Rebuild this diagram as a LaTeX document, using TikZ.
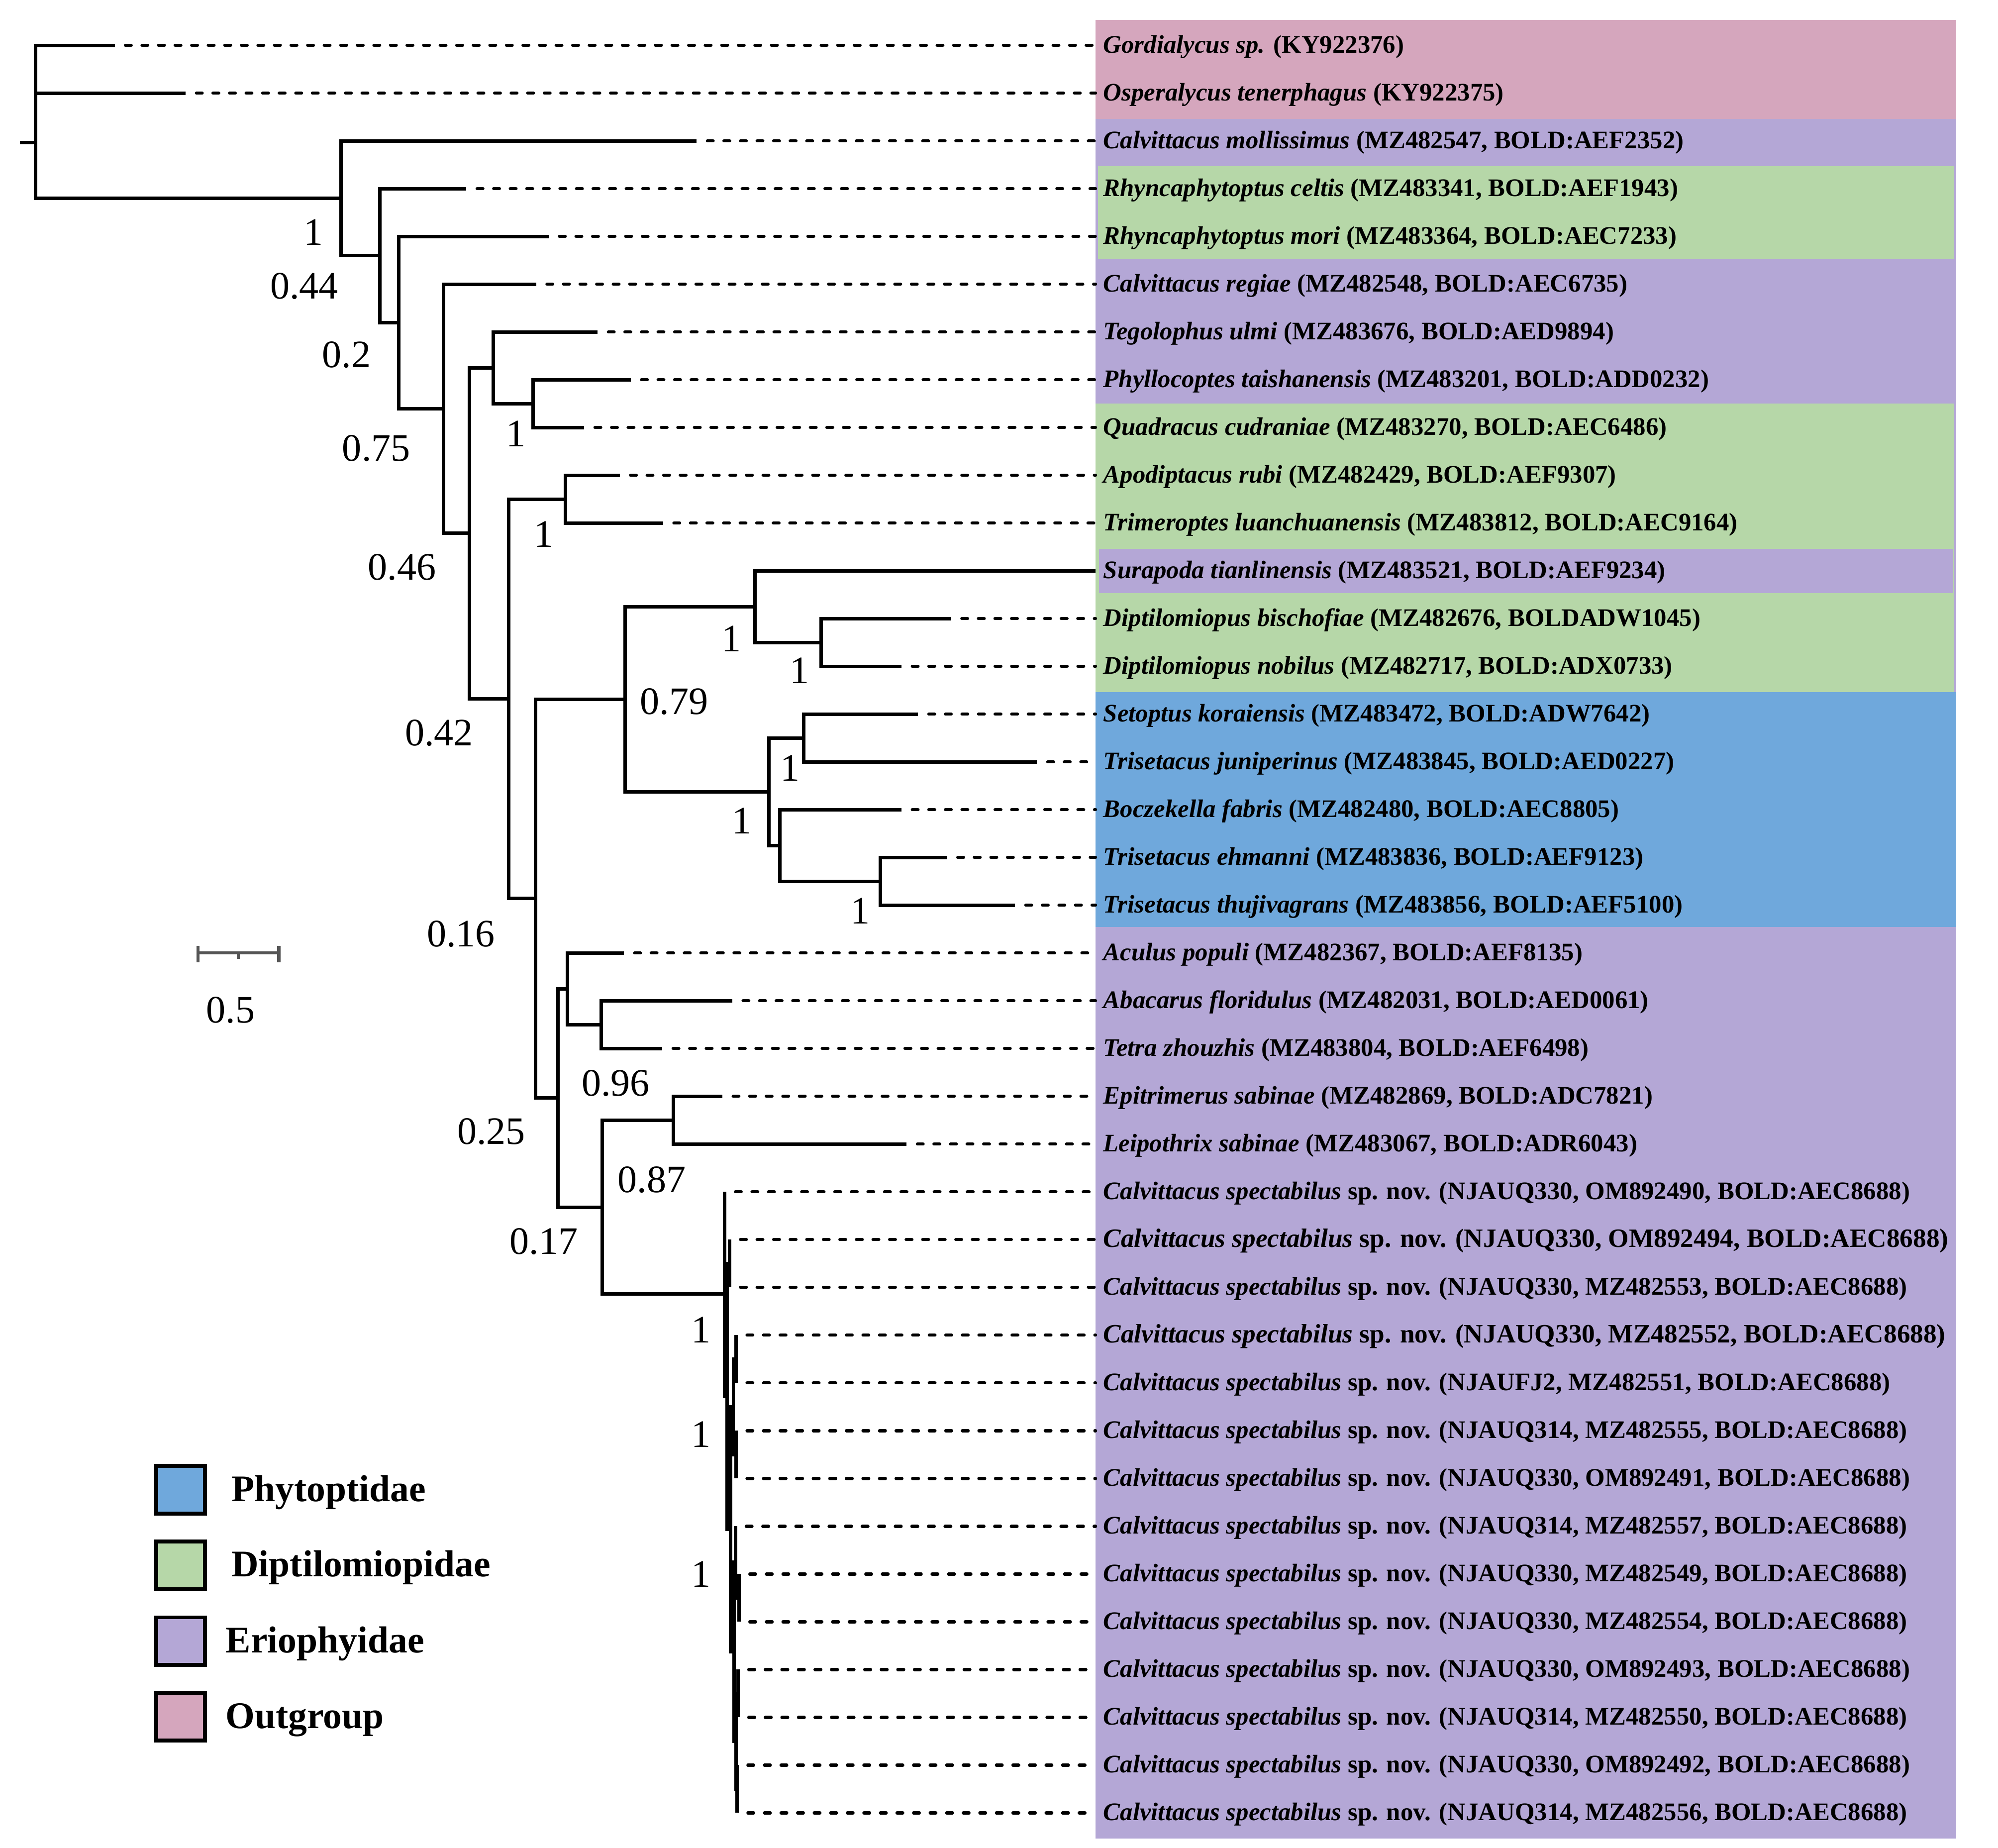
\documentclass[tikz,border=0pt]{standalone}
\usepackage{fontspec}
\setmainfont{Liberation Serif}
\definecolor{cpink}{HTML}{D5A6BD}
\definecolor{cpurple}{HTML}{B4A7D6}
\definecolor{cgreen}{HTML}{B6D7A8}
\definecolor{cblue}{HTML}{6FA8DC}
\definecolor{cbar}{HTML}{555555}
\begin{document}
\begin{tikzpicture}[x=1pt,y=-1pt,
 br/.style={line width=2.7pt, line join=miter, line cap=butt},
 dsh/.style={line width=2.4pt, line cap=round, dash pattern=on 4.6pt off 8.4pt, dash phase=4.6pt},
 tax/.style={anchor=base west, inner sep=0pt, font=\fontsize{19.85}{22}\selectfont\bfseries},
 taxb/.style={anchor=base west, inner sep=0pt, font=\fontsize{20.8}{23}\selectfont\bfseries},
 bsv/.style={inner sep=0pt, font=\fontsize{30.5}{34}\selectfont},
 legbox/.style={draw=black, line width=3pt, minimum width=38.1pt, minimum height=37.4pt, inner sep=0pt},
 legtxt/.style={anchor=base west, inner sep=0pt, font=\fontsize{29.5}{33}\selectfont\bfseries},
 sbar/.style={draw=cbar, line width=2.5pt}]
\useasboundingbox (0,0) rectangle (1568,1449.7);
\fill[white] (0,0) rectangle (1568,1449.7);
% colour bands
\fill[cpurple] (859.8,93.3) rectangle (1535.1,1442.7);
\fill[cpink] (859.8,15.7) rectangle (1535.1,93.3);
\fill[cgreen] (861.5,130.4) rectangle (1533.8,203.1);
\fill[cgreen] (859.8,316.8) rectangle (1533.5,543.1);
\fill[cpurple] (862.6,430.5) rectangle (1532.9,465.4);
\fill[cblue] (859.8,543.1) rectangle (1535.1,727.4);
% rows
\foreach \i/\tx in {1/90.0,2/145.7,3/546.7,4/366.0,5/430.6,6/420.8,7/469.0,8/495.0,9/458.5,10/486.4,
 11/520.4,12/859.8,13/746.4,14/707.5,15/720.5,16/813.8,17/707.5,18/743.2,19/796.6,20/489.6,
 21/574.7,22/519.8,23/566.9,24/711.5,25/568.7,26/572.7,27/572.7,28/577.8,29/577.8,30/577.8,
 31/577.8,32/577.2,33/580.0,34/580.0,35/579.2,36/579.2,37/578.5,38/578.5}{
 \coordinate (t\i) at (\tx,{35.6+(\i-1)*37.485});
 \coordinate (e\i) at (859.8,{35.6+(\i-1)*37.485});
 \coordinate (b\i) at (865.7,{41.4+(\i-1)*37.485});
}
% internal nodes
\coordinate (rs) at (15.7,112);
\coordinate (nR0) at (27.9,112);
\coordinate (nA) at (267.8,155.6);
\coordinate (nB) at (298.0,200.6);
\coordinate (nC) at (312.8,253.1);
\coordinate (nD) at (348.0,320.75);
\coordinate (nE) at (368.2,418.5);
\coordinate (nF) at (387.0,288.6);
\coordinate (nG) at (418.4,316.75);
\coordinate (nH) at (443.6,391.75);
\coordinate (nI) at (399.3,548.4);
\coordinate (nJ) at (420.3,705.1);
\coordinate (nK) at (490.7,548.65);
\coordinate (nL) at (592.6,476.0);
\coordinate (nM) at (644.4,504.15);
\coordinate (nN) at (603.3,621.3);
\coordinate (nO) at (630.8,579.15);
\coordinate (nP) at (612.1,663.5);
\coordinate (nQ) at (690.8,691.6);
\coordinate (nS) at (437.8,861.6);
\coordinate (nR) at (445.2,775.9);
\coordinate (nT) at (471.7,804.05);
\coordinate (nU) at (472.7,947.3);
\coordinate (nAH) at (528.4,879.05);
\coordinate (nV) at (568.7,1015.5);
\coordinate (nX) at (570.5,1095.75);
\coordinate (nY) at (572.7,991.5);
\coordinate (nZ) at (573.3,1200.0);
\coordinate (nAB) at (575.5,1103.95);
\coordinate (nAA) at (577.8,1066.45);
\coordinate (nAC) at (577.8,1141.45);
\coordinate (nAD) at (576.2,1296.1);
\coordinate (nAE) at (577.2,1225.8);
\coordinate (nAF) at (580.0,1253.95);
\coordinate (nAG) at (577.6,1366.35);
\coordinate (nAJ) at (579.2,1328.85);
\coordinate (nAK) at (578.5,1403.85);
% dashed extensions
\foreach \i in {1,...,11,13,14,...,38}{\draw[dsh] (t\i) -- (e\i);}
% branches
\draw[br] (rs) -- (nR0);
\draw[br] (t1) -| (nR0) |- (nA);
\draw[br] (nR0 |- t2) -- (t2);
\draw[br] (t3) -| (nA) |- (nB);
\draw[br] (t4) -| (nB) |- (nC);
\draw[br] (t5) -| (nC) |- (nD);
\draw[br] (t6) -| (nD) |- (nE);
\draw[br] (nF) -| (nE) |- (nI);
\draw[br] (t7) -| (nF) |- (nG);
\draw[br] (t8) -| (nG) |- (t9);
\draw[br] (nH) -| (nI) |- (nJ);
\draw[br] (t10) -| (nH) |- (t11);
\draw[br] (nK) -| (nJ) |- (nS);
\draw[br] (nL) -| (nK) |- (nN);
\draw[br] (t12) -| (nL) |- (nM);
\draw[br] (t13) -| (nM) |- (t14);
\draw[br] (nO) -| (nN) |- (nP);
\draw[br] (t15) -| (nO) |- (t16);
\draw[br] (t17) -| (nP) |- (nQ);
\draw[br] (t18) -| (nQ) |- (t19);
\draw[br] (nR) -| (nS) |- (nU);
\draw[br] (t20) -| (nR) |- (nT);
\draw[br] (t21) -| (nT) |- (t22);
\draw[br] (nAH) -| (nU) |- (nV);
\draw[br] (t23) -| (nAH) |- (t24);
\draw[br] (t25) -| (nV) |- (nX);
\draw[br] (nY) -| (nX) |- (nZ);
\draw[br] (t26) -| (nY) |- (t27);
\draw[br] (nAB) -| (nZ) |- (nAD);
\draw[br] (nAA) -| (nAB) |- (nAC);
\draw[br] (t28) -| (nAA) |- (t29);
\draw[br] (t30) -| (nAC) |- (t31);
\draw[br] (nAE) -| (nAD) |- (nAG);
\draw[br] (t32) -| (nAE) |- (nAF);
\draw[br] (t33) -| (nAF) |- (t34);
\draw[br] (nAJ) -| (nAG) |- (nAK);
\draw[br] (t35) -| (nAJ) |- (t36);
\draw[br] (t37) -| (nAK) |- (t38);
% support values
\node[bsv] (s1) at (245.8,182.4) {1};
\node[bsv] (s2) at (238.8,224.7) {0.44};
\node[bsv] (s3) at (272.0,278.3) {0.2};
\node[bsv] (s4) at (295.3,351.7) {0.75};
\node[bsv] (s5) at (405.0,340.3) {1};
\node[bsv] (s6) at (315.5,445.0) {0.46};
\node[bsv] (s7) at (426.9,419.1) {1};
\node[bsv] (s8) at (344.6,575.0) {0.42};
\node[bsv] (s9) at (529.0,550.5) {0.79};
\node[bsv] (s10) at (573.9,501.3) {1};
\node[bsv] (s11) at (627.6,526.2) {1};
\node[bsv] (s12) at (620.2,602.7) {1};
\node[bsv] (s13) at (582.3,644.0) {1};
\node[bsv] (s14) at (675.2,714.7) {1};
\node[bsv] (s15) at (361.8,733.0) {0.16};
\node[bsv] (s16) at (483.2,849.9) {0.96};
\node[bsv] (s17) at (385.6,887.8) {0.25};
\node[bsv] (s18) at (511.4,925.6) {0.87};
\node[bsv] (s19) at (426.7,974.3) {0.17};
\node[bsv] (s20) at (550.2,1043.6) {1};
\node[bsv] (s21) at (550.2,1125.6) {1};
\node[bsv] (s22) at (550.2,1235.4) {1};
% taxon labels
\node[tax] (lab1) at (b1) {\textit{Gordialycus sp.} (KY922376)};
\node[tax] (lab2) at (b2) {\textit{Osperalycus tenerphagus} (KY922375)};
\node[tax] (lab3) at (b3) {\textit{Calvittacus mollissimus} (MZ482547, BOLD:AEF2352)};
\node[tax] (lab4) at (b4) {\textit{Rhyncaphytoptus celtis} (MZ483341, BOLD:AEF1943)};
\node[tax] (lab5) at (b5) {\textit{Rhyncaphytoptus mori} (MZ483364, BOLD:AEC7233)};
\node[tax] (lab6) at (b6) {\textit{Calvittacus regiae} (MZ482548, BOLD:AEC6735)};
\node[tax] (lab7) at (b7) {\textit{Tegolophus ulmi} (MZ483676, BOLD:AED9894)};
\node[tax] (lab8) at (b8) {\textit{Phyllocoptes taishanensis} (MZ483201, BOLD:ADD0232)};
\node[tax] (lab9) at (b9) {\textit{Quadracus cudraniae} (MZ483270, BOLD:AEC6486)};
\node[tax] (lab10) at (b10) {\textit{Apodiptacus rubi} (MZ482429, BOLD:AEF9307)};
\node[tax] (lab11) at (b11) {\textit{Trimeroptes luanchuanensis} (MZ483812, BOLD:AEC9164)};
\node[tax] (lab12) at (b12) {\textit{Surapoda tianlinensis} (MZ483521, BOLD:AEF9234)};
\node[tax] (lab13) at (b13) {\textit{Diptilomiopus bischofiae} (MZ482676, BOLDADW1045)};
\node[tax] (lab14) at (b14) {\textit{Diptilomiopus nobilus} (MZ482717, BOLD:ADX0733)};
\node[tax] (lab15) at (b15) {\textit{Setoptus koraiensis} (MZ483472, BOLD:ADW7642)};
\node[tax] (lab16) at (b16) {\textit{Trisetacus juniperinus} (MZ483845, BOLD:AED0227)};
\node[tax] (lab17) at (b17) {\textit{Boczekella fabris} (MZ482480, BOLD:AEC8805)};
\node[tax] (lab18) at (b18) {\textit{Trisetacus ehmanni} (MZ483836, BOLD:AEF9123)};
\node[tax] (lab19) at (b19) {\textit{Trisetacus thujivagrans} (MZ483856, BOLD:AEF5100)};
\node[tax] (lab20) at (b20) {\textit{Aculus populi} (MZ482367, BOLD:AEF8135)};
\node[tax] (lab21) at (b21) {\textit{Abacarus floridulus} (MZ482031, BOLD:AED0061)};
\node[tax] (lab22) at (b22) {\textit{Tetra zhouzhis} (MZ483804, BOLD:AEF6498)};
\node[tax] (lab23) at (b23) {\textit{Epitrimerus sabinae} (MZ482869, BOLD:ADC7821)};
\node[tax] (lab24) at (b24) {\textit{Leipothrix sabinae} (MZ483067, BOLD:ADR6043)};
\node[tax] (lab25) at (b25) {\textit{Calvittacus spectabilus} sp. nov. (NJAUQ330, OM892490, BOLD:AEC8688)};
\node[taxb] (lab26) at (b26) {\textit{Calvittacus spectabilus} sp. nov. (NJAUQ330, OM892494, BOLD:AEC8688)};
\node[tax] (lab27) at (b27) {\textit{Calvittacus spectabilus} sp. nov. (NJAUQ330, MZ482553, BOLD:AEC8688)};
\node[taxb] (lab28) at (b28) {\textit{Calvittacus spectabilus} sp. nov. (NJAUQ330, MZ482552, BOLD:AEC8688)};
\node[tax] (lab29) at (b29) {\textit{Calvittacus spectabilus} sp. nov. (NJAUFJ2, MZ482551, BOLD:AEC8688)};
\node[tax] (lab30) at (b30) {\textit{Calvittacus spectabilus} sp. nov. (NJAUQ314, MZ482555, BOLD:AEC8688)};
\node[tax] (lab31) at (b31) {\textit{Calvittacus spectabilus} sp. nov. (NJAUQ330, OM892491, BOLD:AEC8688)};
\node[tax] (lab32) at (b32) {\textit{Calvittacus spectabilus} sp. nov. (NJAUQ314, MZ482557, BOLD:AEC8688)};
\node[tax] (lab33) at (b33) {\textit{Calvittacus spectabilus} sp. nov. (NJAUQ330, MZ482549, BOLD:AEC8688)};
\node[tax] (lab34) at (b34) {\textit{Calvittacus spectabilus} sp. nov. (NJAUQ330, MZ482554, BOLD:AEC8688)};
\node[tax] (lab35) at (b35) {\textit{Calvittacus spectabilus} sp. nov. (NJAUQ330, OM892493, BOLD:AEC8688)};
\node[tax] (lab36) at (b36) {\textit{Calvittacus spectabilus} sp. nov. (NJAUQ314, MZ482550, BOLD:AEC8688)};
\node[tax] (lab37) at (b37) {\textit{Calvittacus spectabilus} sp. nov. (NJAUQ330, OM892492, BOLD:AEC8688)};
\node[tax] (lab38) at (b38) {\textit{Calvittacus spectabilus} sp. nov. (NJAUQ314, MZ482556, BOLD:AEC8688)};
% scale bar
\coordinate (sb1) at (155.3,747.7);
\coordinate (sb2) at (218.8,747.7);
\coordinate (sbm) at (187.0,747.7);
\draw[sbar] (sb1) -- (sb2);
\draw[sbar] ([yshift=5.5pt]sb1) -- ([yshift=-7.5pt]sb1);
\draw[sbar] ([yshift=5.5pt]sb2) -- ([yshift=-7.5pt]sb2);
\draw[sbar] (sbm) -- ([yshift=-4.5pt]sbm);
\node[bsv] (sblab) at (181.0,792.7) {0.5};
% legend
\node[legbox, fill=cblue] (k1) at (141.75,1169.0) {};
\node[legbox, fill=cgreen] (k2) at (141.75,1228.2) {};
\node[legbox, fill=cpurple] (k3) at (141.75,1287.8) {};
\node[legbox, fill=cpink] (k4) at (141.75,1347.0) {};
\node[legtxt] (kt1) at (181.5,1178.0) {Phytoptidae};
\node[legtxt] (kt2) at (181.5,1237.2) {Diptilomiopidae};
\node[legtxt] (kt3) at (177.0,1296.8) {Eriophyidae};
\node[legtxt] (kt4) at (177.0,1356.0) {Outgroup};
\end{tikzpicture}
\end{document}
